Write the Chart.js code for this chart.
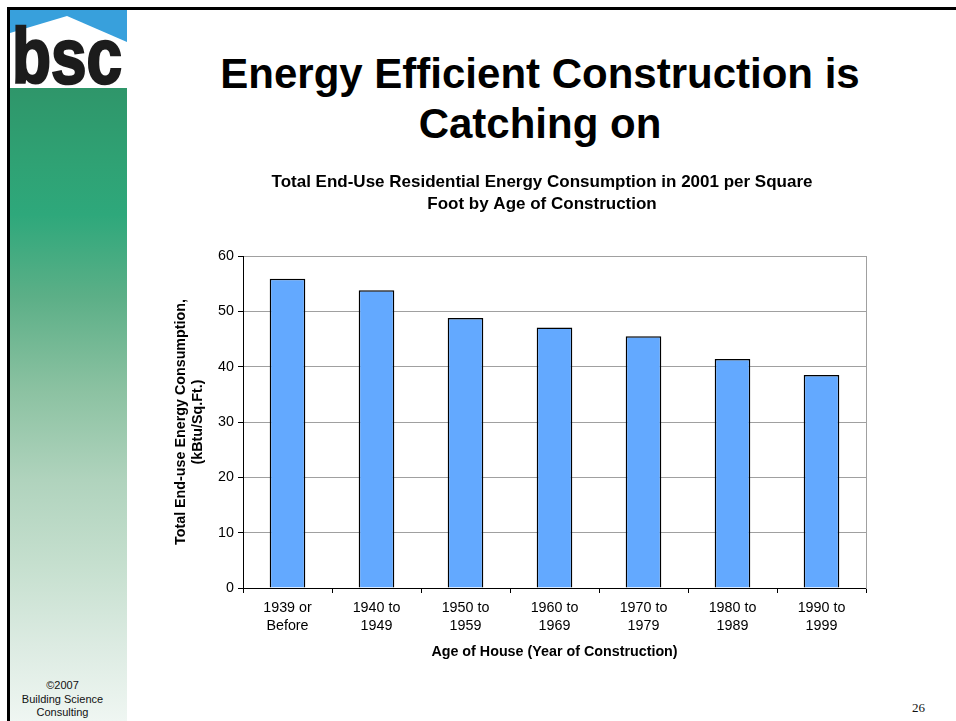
<!DOCTYPE html>
<html>
<head>
<meta charset="utf-8">
<title>Energy Efficient Construction is Catching on</title>
<script src="https://cdn.jsdelivr.net/npm/chart.js@4.4.1/dist/chart.umd.min.js"></script>
<style>
  html, body { margin: 0; padding: 0; background: #fff; }
  body { width: 956px; height: 721px; position: relative; overflow: hidden;
         font-family: 'Liberation Sans', Arial, Helvetica, sans-serif; }
  .frame-top { position: absolute; left: 7px; top: 7px; width: 949px; height: 2.5px; background: #000; }
  .frame-left { position: absolute; left: 7px; top: 7px; width: 2.5px; height: 714px; background: #000; }
  .panel { position: absolute; left: 10px; top: 88px; width: 117px; height: 633px;
           background: linear-gradient(to bottom, #2f966a 0%, #2fa274 12%, #2ea87b 20%, #5caf87 33%,
                                       #8cc2a2 48%, #b0d3bd 62%, #c5dfce 75%, #dcebe2 88%, #eff6f2 100%); }
  .logo { position: absolute; left: 10px; top: 10px; }
  h1 { position: absolute; left: 130px; top: 49px; width: 820px; margin: 0;
       text-align: center; font-size: 42px; line-height: 50px; font-weight: bold; color: #000; }
  .copy { position: absolute; left: 10px; top: 679px; width: 105px; text-align: center;
          font-size: 11px; line-height: 13.5px; color: #111; }
  .pageno { position: absolute; left: 912px; top: 699px; font-family: 'Liberation Serif', 'Times New Roman', serif;
            font-size: 13px; line-height: 17px; color: #111; }
  #chart { position: absolute; left: 0; top: 0; }
</style>
</head>
<body>
<div class="frame-top"></div>
<div class="frame-left"></div>
<div class="panel"></div>
<svg class="logo" width="117" height="78" viewBox="10 10 117 78">
  <rect x="10" y="10" width="117" height="78" fill="#38a0dc"/>
  <polygon points="10,33 67,16 127,42 127,88 10,88" fill="#fff"/>
  <text x="12" y="83" textLength="110" lengthAdjust="spacingAndGlyphs"
        font-family="'Liberation Sans', Arial, sans-serif" font-size="77" font-weight="bold"
        fill="#1c1c1c" stroke="#1c1c1c" stroke-width="2.5">bsc</text>
</svg>
<h1>Energy Efficient Construction is<br>Catching on</h1>
<div class="copy">©2007<br>Building Science<br>Consulting</div>
<div class="pageno">26</div>
<canvas id="chart" width="956" height="721"></canvas>

<script>
// Age-of-construction categories (two-line axis labels)
const categories = [
  ['1939 or', 'Before'],
  ['1940 to', '1949'],
  ['1950 to', '1959'],
  ['1960 to', '1969'],
  ['1970 to', '1979'],
  ['1980 to', '1989'],
  ['1990 to', '1999']
];

// Total end-use energy consumption, kBtu per sq. ft. (2001)
const consumption = [55.9, 53.8, 48.8, 47.1, 45.5, 41.4, 38.5];

// Value-axis tick labels
const yTicks = [0, 10, 20, 30, 40, 50, 60];

const chartTitle = ['Total End-Use Residential Energy Consumption in 2001 per Square',
                    'Foot by Age of Construction'];
const xTitle = 'Age of House (Year of Construction)';
const yTitle = ['Total End-use Energy Consumption,', '(kBtu/Sq.Ft.)'];

const FONT = "'Liberation Sans', Arial, Helvetica, sans-serif";
const AXIS_SIZE = 14.3;
const TITLE_SIZE = 17;

new Chart(document.getElementById('chart'), {
  type: 'bar',
  data: {
    labels: categories,
    datasets: [{
      data: consumption,
      backgroundColor: '#63a9ff',
      borderColor: '#000',
      borderWidth: 1.5,
      barPercentage: 0.4,
      categoryPercentage: 1.0,
      yAxisID: 'y'
    }]
  },
  options: {
    responsive: false,
    animation: false,
    devicePixelRatio: 1,
    layout: { padding: { left: 172.5, right: 44.5, top: 171.5, bottom: 59.5 } },
    plugins: {
      legend: { display: false },
      tooltip: { enabled: false },
      title: {
        display: true,
        text: chartTitle,
        color: '#000',
        font: { family: FONT, size: TITLE_SIZE, weight: 'bold', lineHeight: 22 / TITLE_SIZE },
        padding: { top: 0, bottom: 40.5 }
      }
    },
    scales: {
      x: {
        offset: true,
        grid: { display: true, offset: true, drawOnChartArea: false, drawTicks: true,
                tickLength: 5, tickColor: '#000', color: '#000' },
        border: { color: '#000', width: 1 },
        ticks: { color: '#000', font: { family: FONT, size: AXIS_SIZE, lineHeight: 1.25 },
                 padding: 6.5, maxRotation: 0, autoSkip: false },
        title: { display: true, text: xTitle, color: '#000',
                 font: { family: FONT, size: AXIS_SIZE, weight: 'bold', lineHeight: 1.3 },
                 padding: 0 },
        afterFit: s => { s.height = 73.5; }
      },
      y: {
        min: 0, max: 60,
        afterBuildTicks: s => { s.ticks = yTicks.map(v => ({ value: v })); },
        grid: { color: '#a0a0a0', tickColor: '#000', tickLength: 5, lineWidth: 1 },
        border: { color: '#000', width: 1 },
        ticks: { color: '#000', font: { family: FONT, size: AXIS_SIZE }, padding: 4 },
        title: { display: true, text: yTitle, color: '#000',
                 font: { family: FONT, size: AXIS_SIZE, weight: 'bold', lineHeight: 17 / AXIS_SIZE },
                 padding: 0 },
        afterFit: s => { s.width = 70.5; }
      },
      y2: {
        position: 'right',
        min: 0, max: 60,
        grid: { drawOnChartArea: false, drawTicks: false },
        border: { color: '#a0a0a0', width: 1 },
        ticks: { display: false },
        afterFit: s => { s.width = 45.5; }
      }
    }
  }
});
</script>
</body>
</html>
